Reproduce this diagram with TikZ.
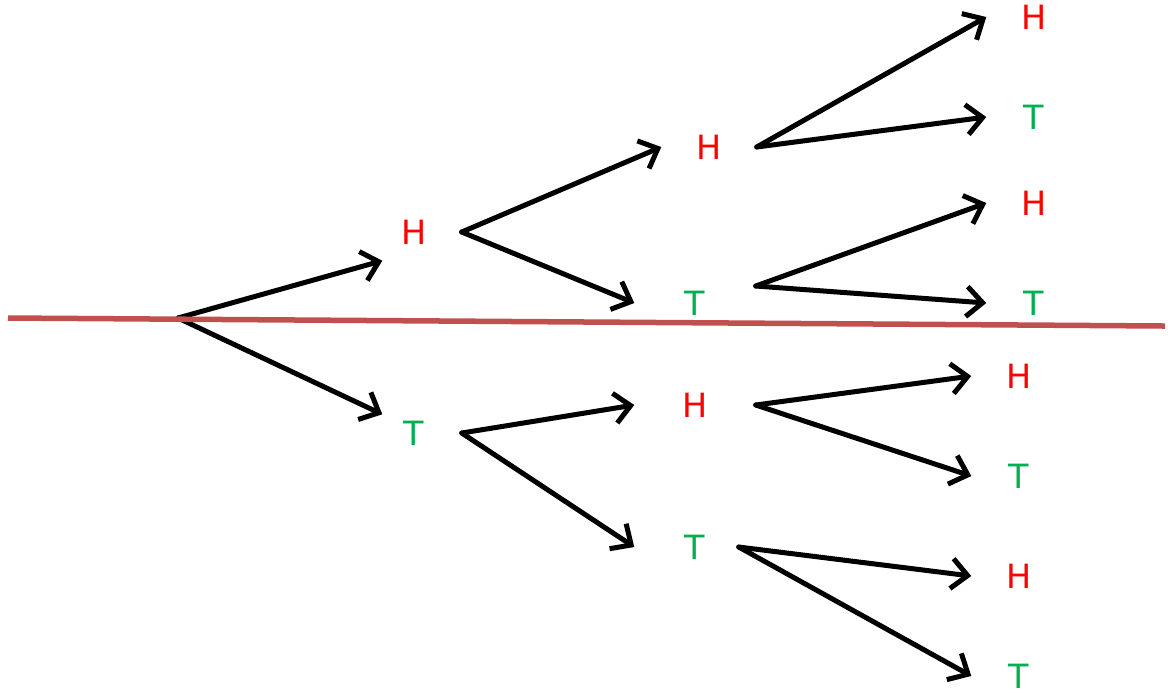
\documentclass[tikz,border=0pt]{standalone}
\usepackage{fontspec}
\setmainfont{DejaVu Sans}
\usetikzlibrary{arrows.meta,positioning}
\definecolor{headred}{RGB}{255,0,0}
\definecolor{tailgreen}{RGB}{0,176,80}
\definecolor{cutline}{RGB}{192,80,77}
\tikzset{
  coin/.style={minimum width=0.94cm,minimum height=0.48cm,inner sep=0pt,font=\fontsize{9.5}{11}\selectfont},
  wide/.style={coin,minimum width=1.2cm},
  hd/.style={text=headred},
  tl/.style={text=tailgreen},
  flip/.style={-{Straight Barb[length=1.6mm,width=3mm,line width=0.05cm]},line width=0.05cm,line cap=round,line join=round}
}
\begin{document}
\begin{tikzpicture}[x=0.01cm,y=-0.01cm]
\useasboundingbox (0,0) rectangle (1168,693);
\coordinate (root) at (178,318);
\coordinate (cutl) at (8,318);
\coordinate (cutr) at (1165,326);

% first toss
\node[coin,hd] (h) at (414,232) {H};
\node[coin,tl] (t) at (414,433) {T};
% second toss
\node[coin,hd] (hh) at (709,147) {H};
\node[wide,tl] (ht) at (695,303) {T};
\node[wide,hd] (th) at (695,405) {H};
\node[wide,tl] (tt) at (695,547) {T};
% third toss
\node[coin,hd] (hhh) at (1034,17) {H};
\node[coin,tl] (hht) at (1034,117) {T};
\node[coin,hd] (hth) at (1034,203) {H};
\node[coin,tl] (htt) at (1034,303) {T};
\node[coin,hd] (thh) at (1019,376) {H};
\node[coin,tl] (tht) at (1019,476) {T};
\node[coin,hd] (tth) at (1019,576) {H};
\node[coin,tl] (ttt) at (1019,676) {T};

\draw[flip] (root) -- ([xshift=1.6mm,yshift=-0.4mm]h.south west);
\draw[flip] (root) -- ([xshift=1.6mm,yshift=-0.6mm]t.north west);

\draw[flip] (h.east) -- (hh.west);
\draw[flip] (h.east) -- (ht.west);
\draw[flip] (t.east) -- (th.west);
\draw[flip] (t.east) -- (tt.west);

\draw[flip] (hh.east) -- (hhh.west);
\draw[flip] (hh.east) -- (hht.west);
\draw[flip] ([yshift=1.7mm]ht.east) -- (hth.west);
\draw[flip] ([yshift=1.7mm]ht.east) -- (htt.west);
\draw[flip] (th.east) -- (thh.west);
\draw[flip] (th.east) -- (tht.west);
\draw[flip] ([xshift=-1.7mm]tt.east) -- (tth.west);
\draw[flip] ([xshift=-1.7mm]tt.east) -- (ttt.west);

% cut line
\draw[cutline,line width=0.055cm] (cutl) -- (cutr);
\end{tikzpicture}
\end{document}
